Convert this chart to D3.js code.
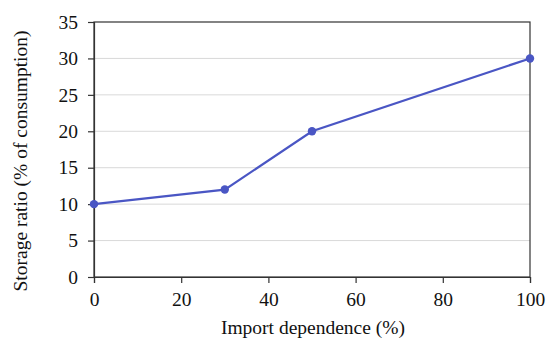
<!DOCTYPE html>
<html><head><meta charset="utf-8">
<script src="https://cdn.jsdelivr.net/npm/d3@7"></script>
<style>body{margin:0;background:#fff}text{font-family:"Liberation Serif","Times New Roman",serif;fill:#111}</style>
</head><body>
<svg id="c" width="550" height="344"></svg>
<script>
const importDep = [0, 30, 50, 100];
const storageRatio = [10, 12, 20, 30];
const xTicks = [0, 20, 40, 60, 80, 100];
const yTicks = [0, 5, 10, 15, 20, 25, 30, 35];

const FONT = '"Liberation Serif","Times New Roman",serif';
const svg = d3.select("#c");
const L = 94, R = 530, T = 22, B = 277;
const x = d3.scaleLinear().domain([0, 100]).range([L, R]);
const y = d3.scaleLinear().domain([0, 35]).range([B, T]);

// gridlines
svg.append("g").selectAll("line").data(yTicks.slice(1, -1)).join("line")
  .attr("x1", L).attr("x2", R).attr("y1", d => y(d)).attr("y2", d => y(d))
  .attr("stroke", "#d9d9d9").attr("stroke-width", 1);

// frame
svg.append("rect").attr("x", L).attr("y", T).attr("width", R - L).attr("height", B - T)
  .attr("fill", "none").attr("stroke", "#333").attr("stroke-width", 1.2);

const yAxis = svg.append("g").attr("transform", `translate(${L},0)`)
  .call(d3.axisLeft(y).tickValues(yTicks).tickSize(6).tickPadding(10));
const xAxis = svg.append("g").attr("transform", `translate(0,${B})`)
  .call(d3.axisBottom(x).tickValues(xTicks).tickSize(6).tickPadding(9));
[xAxis, yAxis].forEach(a => {
  a.attr("font-size", null).attr("font-family", FONT);
  a.select(".domain").attr("stroke", "#333").attr("stroke-width", 1.2);
  a.selectAll(".tick line").attr("stroke", "#333").attr("stroke-width", 1.2);
  a.selectAll("text").style("font-size", "19.5px").style("font-family", FONT).attr("fill", "#111");
});

const pts = importDep.map((d, i) => [d, storageRatio[i]]);
svg.append("path").datum(pts)
  .attr("d", d3.line().x(d => x(d[0])).y(d => y(d[1])))
  .attr("fill", "none").attr("stroke", "#4a56c4").attr("stroke-width", 2.2);
svg.append("g").selectAll("circle").data(pts).join("circle")
  .attr("cx", d => x(d[0])).attr("cy", d => y(d[1])).attr("r", 4.2)
  .attr("fill", "#4a56c4");

svg.append("text").attr("x", 313).attr("y", 334).attr("text-anchor", "middle")
  .style("font-size", "19.5px").style("font-family", FONT).text("Import dependence (%)");
svg.append("text").attr("transform", `translate(27,161) rotate(-90)`)
  .attr("text-anchor", "middle").style("font-size", "19.5px").style("font-family", FONT)
  .text("Storage ratio  (% of consumption)");
</script>
</body></html>
